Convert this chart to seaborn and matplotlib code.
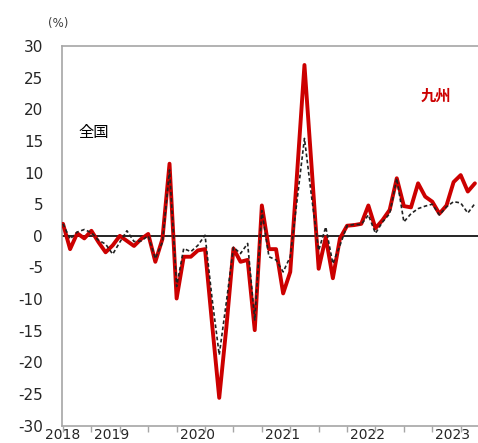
import numpy as np
import pandas as pd
import matplotlib
matplotlib.use("Agg")
import matplotlib.pyplot as plt
import seaborn as sns

# Monthly year-on-year change (%), June 2018 - April 2023
months = pd.period_range("2018-06", "2023-04", freq="M").astype(str).tolist()

kyushu = [1.9, -2.1, 0.4, -0.4, 0.8, -1.0, -2.6, -1.5, 0.0, -0.8,
          -1.6, -0.5, 0.3, -4.1, -0.5, 11.4, -9.9, -3.3, -3.3, -2.3,
          -2.1, -14.0, -25.6, -14.5, -2.0, -4.1, -3.8, -14.9, 4.8, -2.1,
          -2.1, -9.1, -5.7, 10.5, 27.0, 11.0, -5.2, -0.2, -6.7, -0.4,
          1.6, 1.7, 1.9, 4.8, 1.2, 2.5, 4.1, 9.1, 4.7, 4.5,
          8.3, 6.2, 5.4, 3.5, 4.8, 8.5, 9.6, 7.0, 8.3]

national = [1.9, -0.5, 0.6, 1.0, 0.5, -0.7, -1.3, -2.9, -1.0, 0.8,
            -0.9, -0.8, 0.0, -3.6, -1.0, 10.4, -8.0, -2.0, -2.5, -1.5,
            0.1, -10.0, -18.8, -10.5, -1.8, -2.8, -1.2, -13.3, 4.0, -3.3,
            -3.8, -5.7, -3.3, 6.0, 15.4, 6.2, -2.3, 1.4, -4.4, -1.5,
            1.6, 1.8, 1.8, 3.3, 0.4, 2.2, 3.5, 9.1, 2.2, 3.5,
            4.3, 4.7, 5.0, 3.3, 4.6, 5.4, 5.2, 3.6, 5.1]

year_labels = ["2018", "2019", "2020", "2021", "2022", "2023"]
year_months = ["2018-06", "2019-01", "2020-01", "2021-01", "2022-01", "2023-01"]

df = pd.DataFrame({"pos": np.arange(len(months)), "month": months,
                   "九州": kyushu, "全国": national})

sns.set_style("white")
plt.rcParams["font.family"] = ["DejaVu Sans", "Noto Sans CJK JP"]
plt.rcParams["axes.unicode_minus"] = False

fig = plt.figure(figsize=(4.78, 4.43), dpi=100)
ax = fig.add_axes([62 / 478, 17.3 / 443, 420 / 478, 379.7 / 443])

ax.axhline(0, color="black", lw=1.2, zorder=2)
sns.lineplot(data=df, x="pos", y="九州", ax=ax, color="#cc0000", lw=2.8,
             zorder=3, legend=False)
sns.lineplot(data=df, x="pos", y="全国", ax=ax, color="#222222", lw=1.2,
             dashes=False, linestyle=(0, (2.2, 1.5)), zorder=4, legend=False)

ax.set_xlim(-0.14, 59.0)
ax.set_ylim(-30, 30)
ax.set_yticks(np.arange(-30, 31, 5))
ax.set_xticks(np.arange(0, len(months), 4))
ax.set_xticklabels([])
ax.set_xticks([months.index(m) - 0.1 for m in year_months], minor=True)
ax.set_xticklabels(year_labels, minor=True)
ax.set_xlabel("")
ax.set_ylabel("")

spine_col = "#a6a6a6"
for side in ["left", "top", "bottom", "right"]:
    ax.spines[side].set_color(spine_col)
    ax.spines[side].set_linewidth(1.2)

ax.tick_params(axis="y", which="major", direction="out", length=3.6,
               width=1.0, color=spine_col, pad=10, labelsize=11,
               labelcolor="#262626")
ax.tick_params(axis="x", which="major", direction="out", length=4.3,
               width=1.0, color=spine_col, bottom=True)
ax.tick_params(axis="x", which="minor", length=0, pad=1.5, labelsize=10,
               labelcolor="#262626", bottom=True)

fig.text(58 / 478, 1 - 23 / 443, "(%)", fontsize=8.5, color="#404040",
         ha="center", va="center")
ax.text(78 / 478, 1 - 133 / 443, "全国", transform=fig.transFigure,
        fontsize=11, color="black", ha="left", va="center",
        family=["Noto Sans CJK JP", "DejaVu Sans"])
ax.text(436 / 478, 1 - 96 / 443, "九州", transform=fig.transFigure,
        fontsize=11, color="#cc0000", fontweight="bold", ha="center",
        va="center", family=["Noto Sans CJK JP", "DejaVu Sans"])

fig.savefig("out.png", dpi=100)
